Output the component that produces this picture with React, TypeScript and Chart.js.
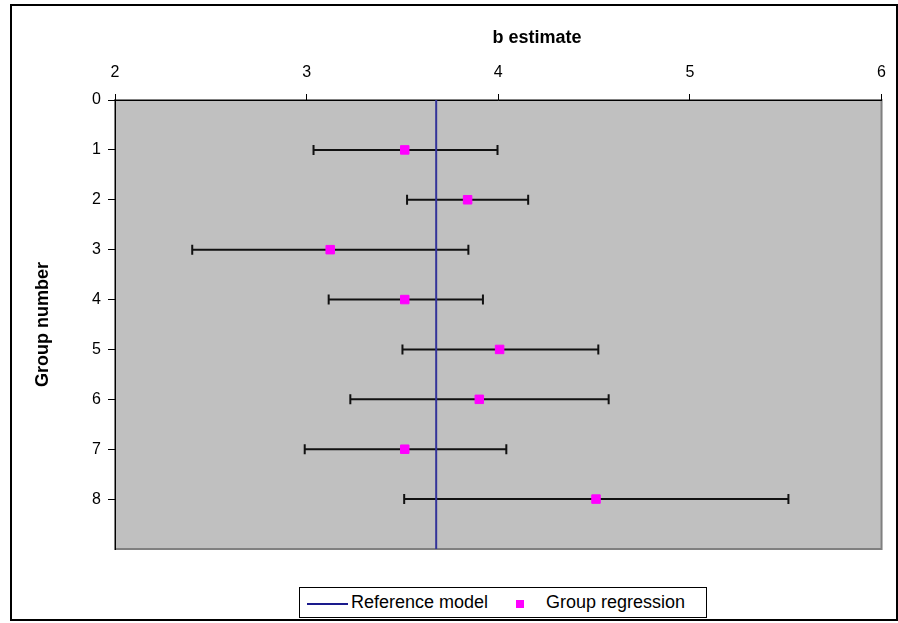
import React, { useEffect, useRef } from 'react';
import { Chart, registerables } from 'chart.js';

Chart.register(...registerables);

const FONT = '"Liberation Sans", Arial, Helvetica, sans-serif';

// Data
const groups = [1, 2, 3, 4, 5, 6, 7, 8];
const estimates = [3.512, 3.84, 3.123, 3.512, 4.007, 3.901, 3.512, 4.51];
const lowerCI = [3.036, 3.524, 2.403, 3.115, 3.5, 3.228, 2.99, 3.509];
const upperCI = [3.996, 4.156, 3.844, 3.92, 4.522, 4.576, 4.042, 5.514];
const referenceModel = [3.676];
const xTickValues = [2, 3, 4, 5, 6];
const yTickValues = [0, 1, 2, 3, 4, 5, 6, 7, 8];

const xTitle = 'b estimate';
const yTitle = 'Group number';
const seriesNames = ['Group regression', 'Reference model'];

export default function App() {
  const canvasRef = useRef<HTMLCanvasElement>(null);

  useEffect(() => {
    const canvas = canvasRef.current;
    if (!canvas) return;

    const background = {
      id: 'background',
      beforeDraw(chart: any) {
        const { ctx, chartArea: a } = chart;
        ctx.save();
        ctx.fillStyle = '#ffffff';
        ctx.fillRect(0, 0, chart.width, chart.height);
        ctx.fillStyle = '#C0C0C0';
        ctx.fillRect(a.left, a.top, a.right - a.left, a.bottom - a.top);
        ctx.strokeStyle = '#808080';
        ctx.lineWidth = 2;
        ctx.strokeRect(a.left, a.top, a.right - a.left, a.bottom - a.top);
        ctx.strokeStyle = '#000000';
        ctx.lineWidth = 2;
        ctx.strokeRect(11, 5, 886, 615);
        ctx.restore();
      },
    };

    const topTitle = {
      id: 'topTitle',
      afterDraw(chart: any) {
        const { ctx } = chart;
        ctx.save();
        ctx.fillStyle = '#000';
        ctx.font = `bold 18px ${FONT}`;
        ctx.textAlign = 'center';
        ctx.textBaseline = 'middle';
        ctx.fillText(xTitle, 537, 38);
        ctx.restore();
      },
    };

    const errorBars = {
      id: 'errorBars',
      beforeDatasetsDraw(chart: any) {
        const { ctx, scales } = chart;
        const x = scales.x;
        const y = scales.y;
        ctx.save();
        ctx.strokeStyle = '#111111';
        ctx.lineWidth = 2;
        groups.forEach((g, i) => {
          const py = y.getPixelForValue(g);
          const x1 = x.getPixelForValue(lowerCI[i]);
          const x2 = x.getPixelForValue(upperCI[i]);
          ctx.beginPath();
          ctx.moveTo(x1, py);
          ctx.lineTo(x2, py);
          ctx.moveTo(x1, py - 5);
          ctx.lineTo(x1, py + 5);
          ctx.moveTo(x2, py - 5);
          ctx.lineTo(x2, py + 5);
          ctx.stroke();
        });
        ctx.restore();
      },
    };

    const yMax = 9;

    const chart = new Chart(canvas, {
      type: 'scatter',
      data: {
        datasets: [
          {
            label: seriesNames[0],
            data: groups.map((g, i) => ({ x: estimates[i], y: g })),
            backgroundColor: '#FF00FF',
            borderColor: '#FF00FF',
            borderWidth: 1,
            pointStyle: 'rect',
            pointRadius: 6,
            showLine: false,
          },
          {
            label: seriesNames[1],
            type: 'line',
            data: [
              { x: referenceModel[0], y: 0 },
              { x: referenceModel[0], y: yMax },
            ],
            borderColor: '#333399',
            borderWidth: 2,
            pointRadius: 0,
            fill: false,
          } as any,
        ],
      },
      options: {
        animation: false,
        responsive: false,
        maintainAspectRatio: false,
        layout: { padding: { left: 0, top: 0, right: 15, bottom: 74 } },
        plugins: {
          legend: { display: false },
          tooltip: { enabled: false },
        },
        scales: {
          x: {
            type: 'linear',
            position: 'top',
            min: 2,
            max: 6,
            afterBuildTicks: (s: any) => {
              s.ticks = xTickValues.map((v) => ({ value: v }));
            },
            afterFit: (s: any) => {
              s.height = 100;
            },
            ticks: {
              color: '#000',
              font: { family: FONT, size: 16 },
              padding: 12,
            },
            grid: {
              drawOnChartArea: false,
              drawTicks: true,
              tickLength: 6,
              color: '#000',
            },
            border: { display: true, color: '#000', width: 1 },
            title: { display: false },
          },
          y: {
            type: 'linear',
            position: 'left',
            reverse: true,
            min: 0,
            max: yMax,
            afterBuildTicks: (s: any) => {
              s.ticks = yTickValues.map((v) => ({ value: v }));
            },
            afterFit: (s: any) => {
              s.width = 115;
            },
            ticks: {
              color: '#000',
              font: { family: FONT, size: 16 },
              padding: 7,
            },
            grid: {
              drawOnChartArea: false,
              drawTicks: true,
              tickLength: 7,
              color: '#000',
            },
            border: { display: true, color: '#000', width: 1 },
            title: {
              display: true,
              text: yTitle,
              color: '#000',
              font: { family: FONT, size: 18, weight: 'bold' },
              padding: { top: 32, bottom: 0 },
            },
          },
        },
      },
      plugins: [background, errorBars, topTitle],
    });

    return () => chart.destroy();
  }, []);

  const legendFont = { fontFamily: FONT, fontSize: 18, color: '#000' };

  return (
    <div style={{ position: 'absolute', left: 0, top: 0, width: 898, height: 623 }}>
      <canvas ref={canvasRef} width={898} height={623} style={{ display: 'block', width: 898, height: 623 }} />
      <div
        style={{
          position: 'absolute',
          left: 299,
          top: 587,
          width: 408,
          height: 31,
          border: '1px solid #000',
          background: '#fff',
          boxSizing: 'border-box',
          ...legendFont,
        }}
      >
        <span style={{ position: 'absolute', left: 7, top: 15, width: 41, height: 2, background: '#1a1a8c' }} />
        <span style={{ position: 'absolute', left: 51, top: 4, lineHeight: '21px', whiteSpace: 'nowrap' }}>{seriesNames[1]}</span>
        <span style={{ position: 'absolute', left: 216, top: 12, width: 8, height: 8, background: '#FF00FF' }} />
        <span style={{ position: 'absolute', left: 246, top: 4, lineHeight: '21px', whiteSpace: 'nowrap' }}>{seriesNames[0]}</span>
      </div>
    </div>
  );
}
